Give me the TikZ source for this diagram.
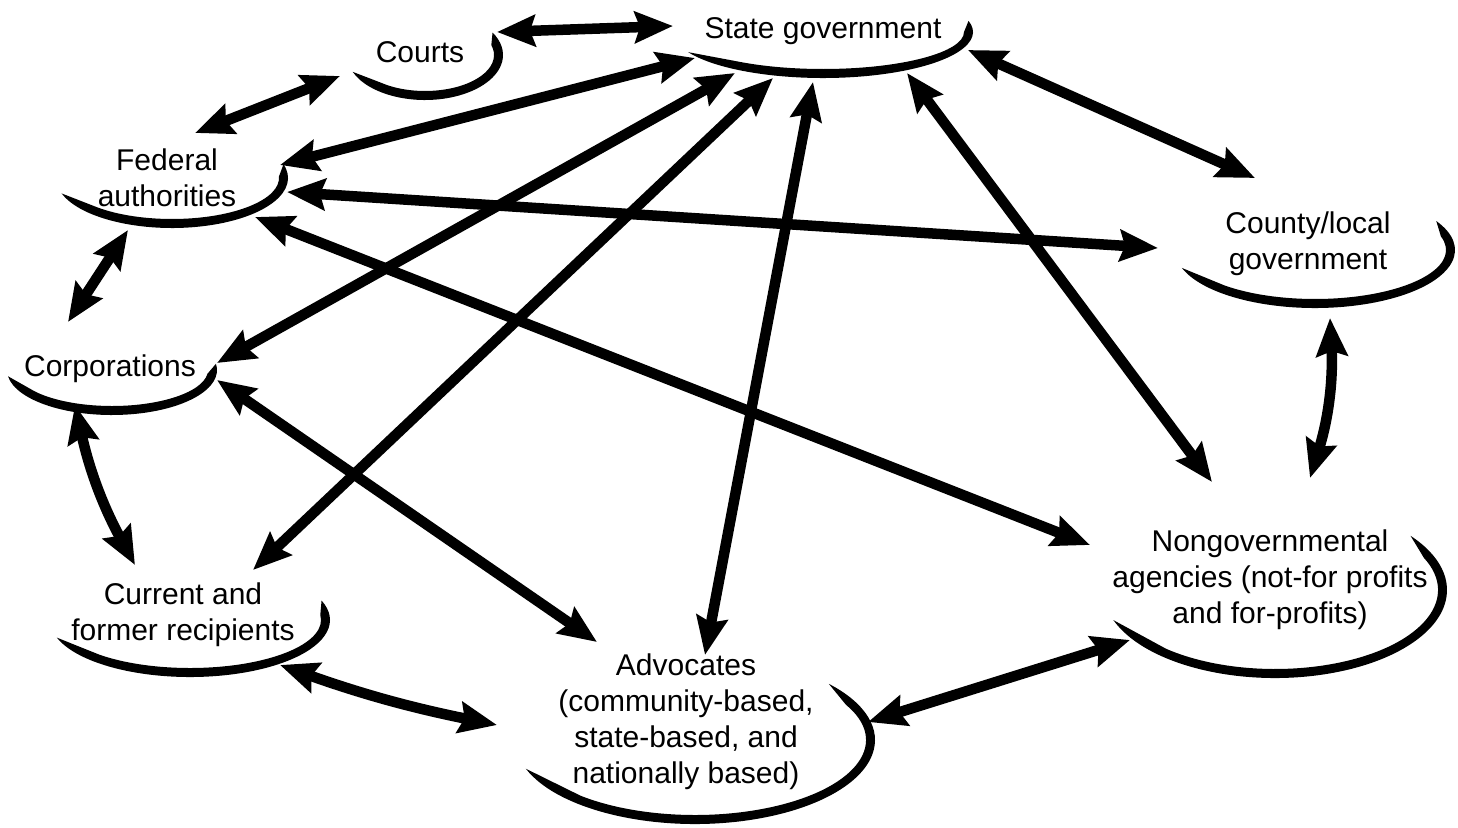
\documentclass[tikz,border=0pt]{standalone}
\usepackage{fontspec}
\setmainfont{Liberation Sans}
\usetikzlibrary{arrows.meta}
\newcommand{\swoosh}[6]{% cx cy a b t1 t2
  \fill ([shift={(#5:#3 and #4)}]#1,#2)
    arc[start angle=#5,end angle=#6,x radius=#3,y radius=#4]
    -- ([shift={(#6+14:#3-9 and #4-9)}]#1,#2)
    arc[start angle=#6+14,end angle=#5-28,x radius=#3-9,y radius=#4-9]
    -- cycle;}
\begin{document}
\begin{tikzpicture}[x=1pt,y=-1pt,
  lbl/.style={font=\fontsize{30}{36}\selectfont, align=center, inner sep=0pt},
  link/.style={line width=10.5pt, arrows={Stealth[length=38pt,width=31pt,inset=5pt]-Stealth[length=38pt,width=31pt,inset=5pt]}}]
\useasboundingbox (0,0) rectangle (1458,827);
\fill[white] (0,0) rectangle (1458,827);

% labels
\node[lbl] (sg)   at (823,31)  {State government};
\node[lbl] (crt)  at (420,52)  {Courts};
\node[lbl] (fed)  at (167,178) {Federal\\authorities};
\node[lbl] (cty)  at (1308,244) {County/local\\government};
\node[lbl] (corp) at (110,369) {Corporations};
\node[lbl] (cur)  at (183,615) {Current and\\former recipients};
\node[lbl] (adv)  at (686,722) {Advocates\\(community-based,\\state-based, and\\nationally based)};
\node[lbl] (ngo)  at (1270,580) {Nongovernmental\\agencies (not-for profits\\and for-profits)};

% swooshes
\swoosh{823}{32}{150}{46}{154}{-14}
\swoosh{425}{55}{78}{45}{158}{-30}
\swoosh{172}{178}{116}{50}{162}{-16}
\swoosh{1315}{250}{140}{58}{162}{-30}
\swoosh{112}{370}{105}{45}{172}{-8}
\swoosh{190}{620}{140}{57}{162}{-20}
\swoosh{695}{740}{180}{84}{160}{-42}
\swoosh{1275}{590}{172}{88}{160}{-38}

% arrow end points
\coordinate (crt-sg) at (497,32);  \coordinate (sg-crt) at (673,26);
\coordinate (crt-fed) at (340,76); \coordinate (fed-crt) at (195,133);
\coordinate (sg-fed) at (695,58);  \coordinate (fed-sg) at (280,165);
\coordinate (sg-corp) at (735,73); \coordinate (corp-sg) at (217,363);
\coordinate (sg-cur) at (773,78);  \coordinate (cur-sg) at (253,570);
\coordinate (sg-adv) at (813,82);  \coordinate (adv-sg) at (705,655);
\coordinate (sg-ngo) at (907,73);  \coordinate (ngo-sg) at (1212,482);
\coordinate (sg-cty) at (968,50);  \coordinate (cty-sg) at (1255,178);
\coordinate (fed-cty) at (287,192); \coordinate (cty-fed) at (1158,248);
\coordinate (fed-ngo) at (255,217); \coordinate (ngo-fed) at (1090,545);
\coordinate (fed-corp) at (128,230); \coordinate (corp-fed) at (68,322);
\coordinate (corp-cur) at (75,405); \coordinate (cur-corp) at (135,565);
\coordinate (corp-adv) at (217,380); \coordinate (adv-corp) at (597,642);
\coordinate (cur-adv) at (280,665); \coordinate (adv-cur) at (497,725);
\coordinate (adv-ngo) at (868,722); \coordinate (ngo-adv) at (1130,640);
\coordinate (cty-ngo) at (1330,318); \coordinate (ngo-cty) at (1310,478);

% connectors
\draw[link] (crt-sg) -- (sg-crt);
\draw[link] (crt-fed) -- (fed-crt);
\draw[link] (sg-fed) -- (fed-sg);
\draw[link] (sg-corp) -- (corp-sg);
\draw[link] (sg-cur) -- (cur-sg);
\draw[link] (sg-adv) -- (adv-sg);
\draw[link] (sg-ngo) -- (ngo-sg);
\draw[link] (sg-cty) -- (cty-sg);
\draw[link] (fed-cty) -- (cty-fed);
\draw[link] (fed-ngo) -- (ngo-fed);
\draw[link] (fed-corp) -- (corp-fed);
\draw[link] (corp-cur) to[bend right=8] (cur-corp);
\draw[link] (corp-adv) -- (adv-corp);
\draw[link] (cur-adv) to[bend right=4] (adv-cur);
\draw[link] (adv-ngo) -- (ngo-adv);
\draw[link] (cty-ngo) to[bend left=10] (ngo-cty);
\end{tikzpicture}
\end{document}
